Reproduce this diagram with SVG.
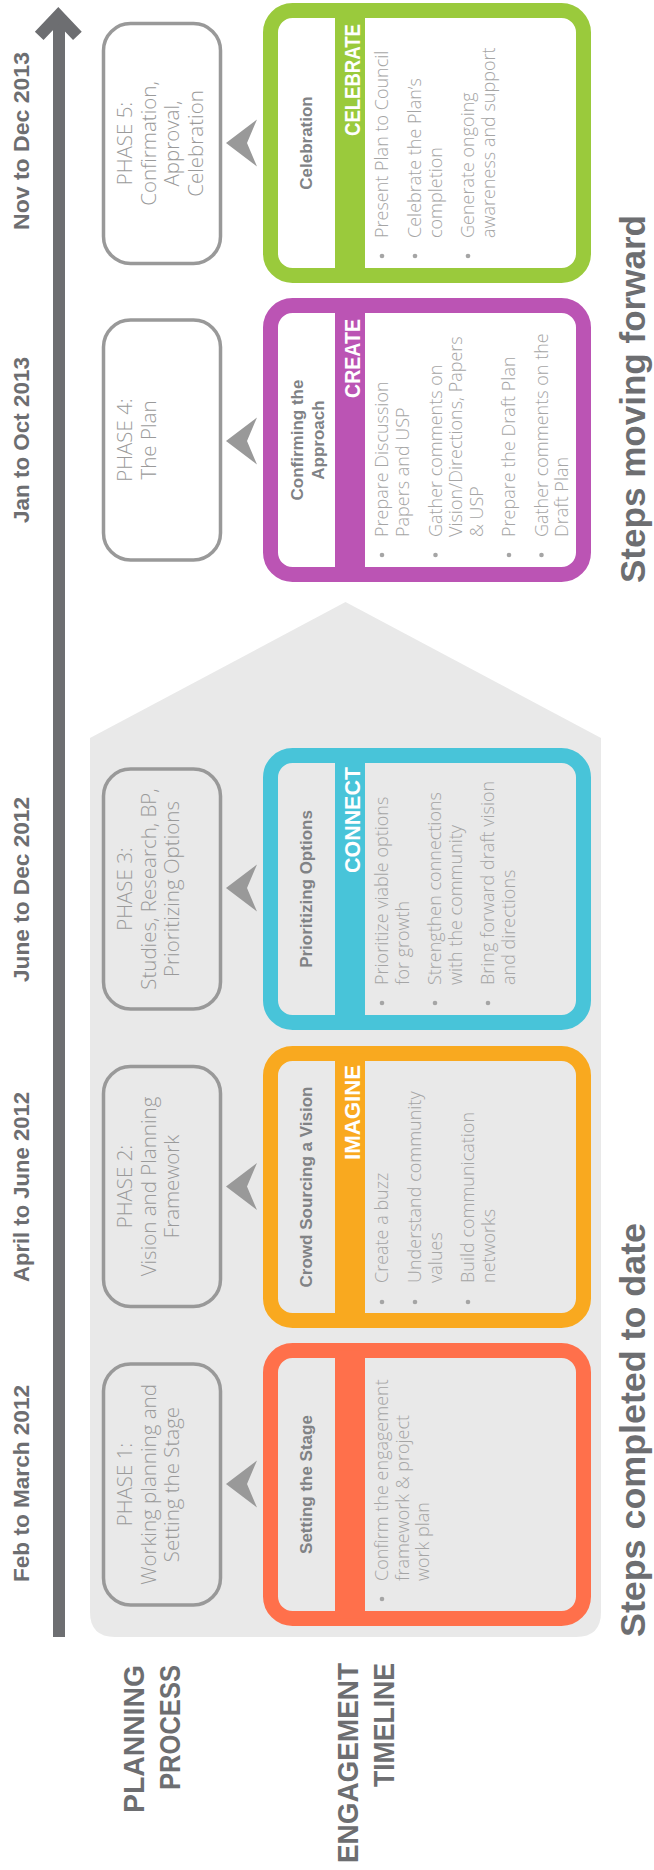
<svg xmlns="http://www.w3.org/2000/svg" width="654" height="1870" viewBox="0 0 654 1870">
<style>
.date{font-family:"Liberation Sans",Arial,sans-serif;font-weight:bold;font-size:22px;fill:#6d6e71;text-anchor:middle}
.ph{font-family:"Open Sans","Liberation Sans",sans-serif;font-weight:300;font-size:20.5px;fill:#9a9a9a;text-anchor:middle}
.pbox{fill:none;stroke:#999999;stroke-width:3.5}
.arr{fill:#999999}
.ttl{font-family:"Liberation Sans",Arial,sans-serif;font-weight:bold;font-size:17px;fill:#808285;text-anchor:middle}
.band{font-family:"Liberation Sans",Arial,sans-serif;font-weight:bold;font-size:22px;fill:#ffffff;text-anchor:end}
.bl{font-family:"Open Sans","Liberation Sans",sans-serif;font-weight:300;font-size:18px;fill:#a5a5a5}
.dot{fill:#a5a5a5}
.big{font-family:"Liberation Sans",Arial,sans-serif;font-weight:bold;font-size:35px;fill:#6d6e71}
.side{font-family:"Liberation Sans",Arial,sans-serif;font-weight:bold;font-size:30px;fill:#6d6e71;text-anchor:end}
.cbox{stroke-width:15}
</style>
<g transform="translate(0,1870) rotate(-90)">
  <!-- background region -->
  <path id="completed-region" d="M258,90 L1132,90 L1268,345.5 L1132,601 L258,601 Q233,601 233,576 L233,115 Q233,90 258,90 Z" fill="#e9e9e9"/>

  <!-- timeline axis -->
  <g id="timeline-axis">
    <line x1="233" y1="59" x2="1855" y2="59" stroke="#6d6e71" stroke-width="12"/>
    <polyline points="1834.2,39.2 1854.2,58.3 1834.2,77.4" fill="none" stroke="#6d6e71" stroke-width="12" stroke-linejoin="miter" stroke-miterlimit="10"/>
  </g>

  <!-- date labels -->
  <g id="dates">
    <text class="date" x="1729" y="29" textLength="178" lengthAdjust="spacingAndGlyphs">Nov to Dec 2013</text>
    <text class="date" x="1430" y="29" textLength="166" lengthAdjust="spacingAndGlyphs">Jan to Oct 2013</text>
    <text class="date" x="980.5" y="29" textLength="185" lengthAdjust="spacingAndGlyphs">June to Dec 2012</text>
    <text class="date" x="683" y="29" textLength="190" lengthAdjust="spacingAndGlyphs">April to June 2012</text>
    <text class="date" x="386.5" y="29" textLength="197" lengthAdjust="spacingAndGlyphs">Feb to March 2012</text>
  </g>

  <!-- phase boxes -->
  <g id="phase5">
    <rect class="pbox" x="1606.5" y="103.5" width="240" height="117" rx="27" fill="#ffffff"/>
    <text class="ph" x="1726.5" y="132">PHASE 5:</text>
    <text class="ph" x="1726.5" y="155.5">Confirmation,</text>
    <text class="ph" x="1726.5" y="179">Approval,</text>
    <text class="ph" x="1726.5" y="202.5">Celebration</text>
  </g>
  <g id="phase4">
    <rect class="pbox" x="1310" y="103.5" width="240" height="117" rx="27" fill="#ffffff"/>
    <text class="ph" x="1430" y="132">PHASE 4:</text>
    <text class="ph" x="1430" y="155.5">The Plan</text>
  </g>
  <g id="phase3">
    <rect class="pbox" x="861" y="103.5" width="240" height="117" rx="27"/>
    <text class="ph" x="981" y="132">PHASE 3:</text>
    <text class="ph" x="981" y="155.5">Studies, Research, BP,</text>
    <text class="ph" x="981" y="179">Prioritizing Options</text>
  </g>
  <g id="phase2">
    <rect class="pbox" x="563.5" y="103.5" width="240" height="117" rx="27"/>
    <text class="ph" x="683.5" y="132">PHASE 2:</text>
    <text class="ph" x="683.5" y="155.5">Vision and Planning</text>
    <text class="ph" x="683.5" y="179">Framework</text>
  </g>
  <g id="phase1">
    <rect class="pbox" x="265" y="103.5" width="241" height="117" rx="27"/>
    <text class="ph" x="385.5" y="132">PHASE 1:</text>
    <text class="ph" x="385.5" y="155.5">Working planning and</text>
    <text class="ph" x="385.5" y="179">Setting the Stage</text>
  </g>

  <!-- connectors: arrows from engagement boxes to phases -->
  <g id="connectors">
    <polygon class="arr" points="1727,226 1750.5,257 1727,247 1703.5,257"/>
    <polygon class="arr" points="1429,226 1452.5,257 1429,247 1405.5,257"/>
    <polygon class="arr" points="982,226 1005.5,257 982,247 958.5,257"/>
    <polygon class="arr" points="683.5,226 707,257 683.5,247 660,257"/>
    <polygon class="arr" points="386,226 409.5,257 386,247 362.5,257"/>
  </g>

  <!-- engagement boxes -->
  <g id="celebrate">
    <rect class="cbox" x="1594.5" y="270.5" width="265" height="313" rx="22" fill="#ffffff" stroke="#9aca3c"/>
    <rect x="1594.5" y="335" width="265" height="30" fill="#9aca3c"/>
    <text class="ttl" x="1727" y="312">Celebration</text>
    <text class="band" x="1846" y="359.5" textLength="112" lengthAdjust="spacingAndGlyphs">CELEBRATE</text>
    <circle class="dot" cx="1614" cy="382" r="2.3"/>
    <circle class="dot" cx="1614" cy="415" r="2.3"/>
    <circle class="dot" cx="1614" cy="468" r="2.3"/>
    <text class="bl" x="1632" y="388">Present Plan to Council</text>
    <text class="bl" x="1632" y="421">Celebrate the Plan’s</text>
    <text class="bl" x="1632" y="441.5">completion</text>
    <text class="bl" x="1632" y="474">Generate ongoing</text>
    <text class="bl" x="1632" y="494.5">awareness and support</text>
  </g>
  <g id="create">
    <rect class="cbox" x="1295.5" y="270.5" width="269" height="313" rx="22" fill="#ffffff" stroke="#bb54b4"/>
    <rect x="1295.5" y="335" width="269" height="30" fill="#bb54b4"/>
    <text class="ttl" x="1430" y="303">Confirming the</text>
    <text class="ttl" x="1430" y="324">Approach</text>
    <text class="band" x="1551" y="359.5" textLength="79" lengthAdjust="spacingAndGlyphs">CREATE</text>
    <circle class="dot" cx="1315" cy="382" r="2.3"/>
    <circle class="dot" cx="1315" cy="435.5" r="2.3"/>
    <circle class="dot" cx="1315" cy="509" r="2.3"/>
    <circle class="dot" cx="1315" cy="541.5" r="2.3"/>
    <text class="bl" x="1333" y="388">Prepare Discussion</text>
    <text class="bl" x="1333" y="408.5">Papers and USP</text>
    <text class="bl" x="1333" y="441.5">Gather comments on</text>
    <text class="bl" x="1333" y="462">Vision/Directions, Papers</text>
    <text class="bl" x="1333" y="482.5">&amp; USP</text>
    <text class="bl" x="1333" y="515">Prepare the Draft Plan</text>
    <text class="bl" x="1333" y="547.5">Gather comments on the</text>
    <text class="bl" x="1333" y="568">Draft Plan</text>
  </g>
  <g id="connect">
    <rect class="cbox" x="847.5" y="270.5" width="267" height="313" rx="22" fill="none" stroke="#48c4d9"/>
    <rect x="847.5" y="335" width="267" height="30" fill="#48c4d9"/>
    <text class="ttl" x="981" y="312">Prioritizing Options</text>
    <text class="band" x="1103" y="359.5" textLength="106" lengthAdjust="spacingAndGlyphs">CONNECT</text>
    <circle class="dot" cx="867" cy="382" r="2.3"/>
    <circle class="dot" cx="867" cy="435" r="2.3"/>
    <circle class="dot" cx="867" cy="488" r="2.3"/>
    <text class="bl" x="885" y="388">Prioritize viable options</text>
    <text class="bl" x="885" y="408.5">for growth</text>
    <text class="bl" x="885" y="441">Strengthen connections</text>
    <text class="bl" x="885" y="461.5">with the community</text>
    <text class="bl" x="885" y="494">Bring forward draft vision</text>
    <text class="bl" x="885" y="514.5">and directions</text>
  </g>
  <g id="imagine">
    <rect class="cbox" x="549.5" y="270.5" width="267" height="313" rx="22" fill="none" stroke="#f9a91f"/>
    <rect x="549.5" y="335" width="267" height="30" fill="#f9a91f"/>
    <text class="ttl" x="683" y="312">Crowd Sourcing a Vision</text>
    <text class="band" x="805" y="359.5" textLength="95" lengthAdjust="spacingAndGlyphs">IMAGINE</text>
    <circle class="dot" cx="568" cy="382" r="2.3"/>
    <circle class="dot" cx="568" cy="415" r="2.3"/>
    <circle class="dot" cx="568" cy="468" r="2.3"/>
    <text class="bl" x="587" y="388">Create a buzz</text>
    <text class="bl" x="587" y="421">Understand community</text>
    <text class="bl" x="587" y="441.5">values</text>
    <text class="bl" x="587" y="474">Build communication</text>
    <text class="bl" x="587" y="494.5">networks</text>
  </g>
  <g id="setting-the-stage">
    <rect class="cbox" x="251.5" y="270.5" width="268" height="313" rx="22" fill="none" stroke="#ff704b"/>
    <rect x="251.5" y="335" width="268" height="30" fill="#ff704b"/>
    <text class="ttl" x="385.5" y="312">Setting the Stage</text>
    <circle class="dot" cx="271" cy="382" r="2.3"/>
    <text class="bl" x="289" y="388">Confirm the engagement</text>
    <text class="bl" x="289" y="408.5">framework &amp; project</text>
    <text class="bl" x="289" y="429">work plan</text>
  </g>

  <!-- row labels -->
  <g id="labels">
    <text class="side" x="205" y="144" textLength="148" lengthAdjust="spacingAndGlyphs">PLANNING</text>
    <text class="side" x="205" y="180" textLength="125" lengthAdjust="spacingAndGlyphs">PROCESS</text>
    <text class="side" x="207" y="358" textLength="200" lengthAdjust="spacingAndGlyphs">ENGAGEMENT</text>
    <text class="side" x="207" y="394" textLength="124" lengthAdjust="spacingAndGlyphs">TIMELINE</text>
    <text class="big" x="233" y="645" textLength="414" lengthAdjust="spacingAndGlyphs">Steps completed to date</text>
    <text class="big" x="1287" y="645" textLength="368" lengthAdjust="spacingAndGlyphs">Steps moving forward</text>
  </g>
</g>
</svg>
